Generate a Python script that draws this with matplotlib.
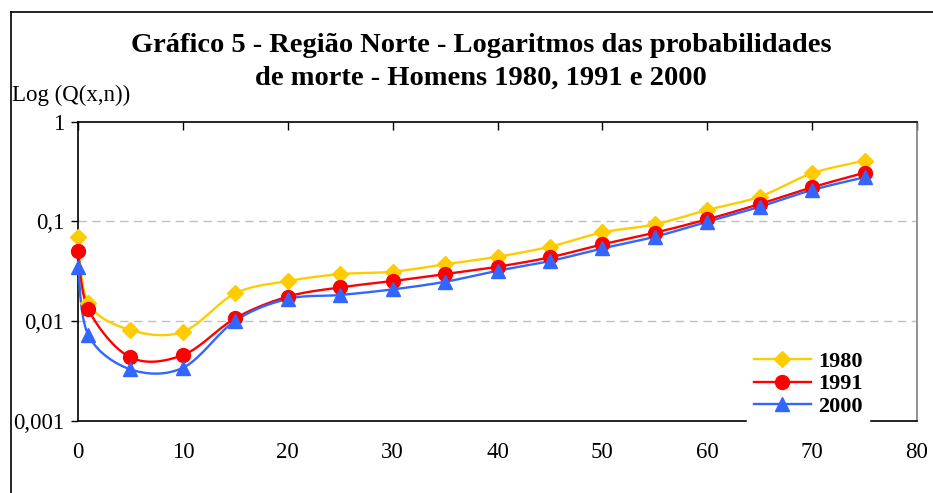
import numpy as np
import matplotlib
matplotlib.use("Agg")
import matplotlib.pyplot as plt
from matplotlib.lines import Line2D

ages = [0, 1, 5, 10, 15, 20, 25, 30, 35, 40, 45, 50, 55, 60, 65, 70, 75]
q1980 = [0.069, 0.0151, 0.00815, 0.00783, 0.0190, 0.0252, 0.0296, 0.0313, 0.0371,
         0.0442, 0.0557, 0.0775, 0.0933, 0.130, 0.177, 0.303, 0.405]
q1991 = [0.0507, 0.0131, 0.00434, 0.00457, 0.0107, 0.0176, 0.0218, 0.0252, 0.0296,
         0.0351, 0.0436, 0.0588, 0.0769, 0.1047, 0.149, 0.219, 0.307]
q2000 = [0.035, 0.0072, 0.00329, 0.00341, 0.0101, 0.0167, 0.0183, 0.0208, 0.0248,
         0.0320, 0.0400, 0.0536, 0.0701, 0.099, 0.140, 0.206, 0.276]
series_labels = ["1980", "1991", "2000"]
x_ticks = [0, 10, 20, 30, 40, 50, 60, 70, 80]
y_ticks = [0.001, 0.01, 0.1, 1]
y_tick_labels = ["0,001", "0,01", "0,1", "1"]
title_line1 = "Gráfico 5 - Região Norte - Logaritmos das probabilidades"
title_line2 = "de morte - Homens 1980, 1991 e 2000"
ylabel = "Log (Q(x,n))"

colors = ["#FFCC00", "#FF0000", "#3366FF"]
markers = ["D", "o", "^"]
msizes = [8, 10, 10]


def smooth(xs, ys, n=20):
    # Excel-like smoothed line (Catmull-Rom Bezier) in (x, log10 y) space
    xs = np.asarray(xs, float)
    ly = np.log10(np.asarray(ys, float))
    P = np.column_stack([xs, ly])
    out = [P[0]]
    for i in range(len(P) - 1):
        p0 = P[i - 1] if i > 0 else P[i]
        p1 = P[i]
        p2 = P[i + 1]
        p3 = P[i + 2] if i + 2 < len(P) else P[i + 1]
        c1 = p1 + (p2 - p0) / 6.0
        c2 = p2 - (p3 - p1) / 6.0
        t = np.linspace(0, 1, n)[1:, None]
        seg = ((1 - t) ** 3) * p1 + 3 * ((1 - t) ** 2) * t * c1 + 3 * (1 - t) * t ** 2 * c2 + t ** 3 * p2
        out.extend(seg)
    out = np.array(out)
    return out[:, 0], 10 ** out[:, 1]


plt.rcParams["font.family"] = ["Liberation Serif", "DejaVu Serif"]

fig = plt.figure(figsize=(9.33, 4.93), dpi=100)
ax = fig.add_axes([78 / 933, 1 - 421 / 493, (917 - 78) / 933, (421 - 121.5) / 493])

ax.set_yscale("log")
ax.set_xlim(0, 80)
ax.set_ylim(0.001, 1)

for vals, lab, c, m, ms in zip([q1980, q1991, q2000], series_labels, colors, markers, msizes):
    sx, sy = smooth(ages, vals)
    ax.plot(sx, sy, color=c, lw=1.7, zorder=3)
    ax.plot(ages, vals, linestyle="none", marker=m, markersize=ms, color=c, zorder=4,
            clip_on=False)

# gridlines
for g in [0.01, 0.1]:
    ax.axhline(g, color="#C0C0C0", lw=1.0, ls=(0, (6, 4)), zorder=1)

ax.set_yticks(y_ticks)
ax.set_yticklabels(y_tick_labels)
ax.yaxis.set_minor_locator(matplotlib.ticker.NullLocator())
ax.tick_params(axis="y", which="major", direction="out", length=5, width=1,
               labelsize=16.5, pad=5, right=False)

ax.set_xticks(x_ticks)
ax.set_xticklabels([str(v) for v in x_ticks])
ax.tick_params(axis="x", which="major", bottom=False, top=True, direction="in",
               length=6, width=1, labelsize=16.5, pad=15, labelbottom=True, labeltop=False)

for s in ["left", "top", "bottom"]:
    ax.spines[s].set_color("black")
    ax.spines[s].set_linewidth(1.2)
ax.spines["right"].set_color("#808080")
ax.spines["right"].set_linewidth(1.2)

# legend
handles = [Line2D([0], [0], color=c, lw=1.7, marker=m, markersize=ms)
           for c, m, ms in zip(colors, markers, msizes)]
leg = ax.legend(handles, series_labels, loc="lower right", bbox_to_anchor=(0.943, -0.008),
                frameon=True, fancybox=False, edgecolor="white", framealpha=1,
                prop={"weight": "bold", "size": 16}, handlelength=2.6, handletextpad=0.3,
                labelspacing=0.08, borderpad=0.3, borderaxespad=0)
leg.set_zorder(5)

fig.text(481 / 933, 1 - 45 / 493, title_line1, ha="center", va="center", fontsize=20.5,
         fontweight="bold")
fig.text(481 / 933, 1 - 78 / 493, title_line2, ha="center", va="center", fontsize=20.5,
         fontweight="bold")
fig.text(12 / 933, 1 - 95 / 493, ylabel, ha="left", va="center", fontsize=16.5)

# outer chart border
fig.add_artist(Line2D([10.5 / 933, 10.5 / 933], [0, 1 - 12 / 493], transform=fig.transFigure,
                      color="black", lw=1.2))
fig.add_artist(Line2D([10.5 / 933, 1], [1 - 12 / 493, 1 - 12 / 493], transform=fig.transFigure,
                      color="black", lw=1.2))

fig.savefig("out.png", dpi=100)
